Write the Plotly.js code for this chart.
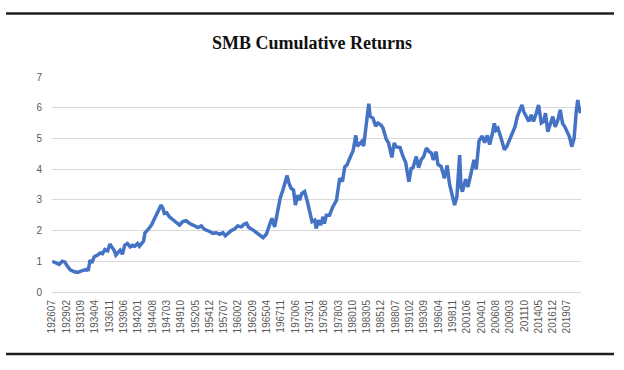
<!DOCTYPE html>
<html>
<head>
<meta charset="utf-8">
<script src="https://cdn.plot.ly/plotly-3.0.1.min.js"></script>
<style>html,body{margin:0;padding:0;background:#fff;}#chart{width:624px;height:370px;}</style>
</head>
<body>
<div id="chart"></div>
<script>
// Month of each reading (YYYYMM) and SMB cumulative return
const months = [
"192607","192703","192710","192805","192810","192904","192910","193007","193102","193109",
"193205","193210","193301","193305","193309","193402","193409","193503","193508","193601",
"193607","193612","193704","193709","193801","193806","193810","193903","193908","194002",
"194008","194101","194106","194112","194204","194209","194301","194304","194310","194406",
"194501","194508","194601","194603","194607","194610","194703","194709","194804","194812",
"194907","195002","195009","195105","195112","195211","195306","195401","195412","195507",
"195602","195610","195705","195710","195804","195811","195906","196001","196009","196102",
"196108","196201","196210","196309","196408","196503","196510","196603","196609","196703",
"196709","196803","196808","196812","196904","196909","197002","197006","197011","197103",
"197108","197202","197208","197301","197306","197312","197403","197408","197501","197506",
"197509","197601","197608","197703","197711","197806","197812","197905","197910","198002",
"198007","198011","198105","198108","198201","198206","198210","198303","198306","198309",
"198312","198406","198412","198505","198512","198604","198611","198704","198711","198804",
"198809","198905","198911","199005","199012","199105","199109","199204","199209","199303",
"199308","199402","199408","199501","199505","199511","199603","199610","199705","199711",
"199804","199809","199903","199908","200002","200005","200008","200103","200108","200204",
"200209","200302","200308","200403","200408","200502","200507","200601","200605","200609",
"200701","200708","200803","200808","200902","200908","201002","201007","201012","201105",
"201109","201203","201208","201301","201306","201312","201405","201411","201504","201508",
"201601","201607","201612","201705","201711","201804","201809","201902","201907","201912",
"202005","202010","202103","202106","202109","202112"
];
const smb = [
1.00,0.95,0.90,1.00,0.98,0.84,0.72,0.66,0.64,0.68,
0.72,0.74,0.69,1.04,0.95,1.15,1.20,1.27,1.25,1.38,
1.34,1.56,1.47,1.36,1.20,1.31,1.36,1.23,1.52,1.58,
1.47,1.52,1.49,1.58,1.49,1.58,1.66,1.93,2.02,2.18,
2.40,2.56,2.74,2.83,2.72,2.56,2.58,2.45,2.36,2.25,
2.18,2.29,2.32,2.23,2.18,2.10,2.15,2.04,1.97,1.91,
1.93,1.88,1.93,1.83,1.91,2.00,2.05,2.15,2.12,2.20,
2.24,2.10,2.02,1.88,1.77,1.88,2.24,2.40,2.12,2.62,
3.05,3.32,3.59,3.79,3.54,3.37,3.32,2.83,3.15,2.99,
3.21,3.27,2.94,2.66,2.29,2.34,2.07,2.34,2.18,2.45,
2.23,2.50,2.50,2.77,2.98,3.70,3.60,4.07,4.14,4.29,
4.45,4.60,5.10,4.75,4.82,4.90,4.75,5.50,5.93,6.13,
5.72,5.66,5.40,5.50,5.43,5.33,4.97,4.85,4.38,4.85,
4.72,4.70,4.42,4.22,3.59,4.02,4.05,4.41,4.05,4.32,
4.41,4.69,4.57,4.52,4.30,4.57,4.15,4.08,3.70,4.12,
3.52,3.16,2.83,3.10,4.46,3.40,3.27,3.67,3.42,3.95,
4.30,3.99,4.92,5.08,4.86,5.10,4.80,5.16,5.49,5.27,
5.33,5.00,4.63,4.73,4.95,5.20,5.38,5.71,5.93,6.09,
5.87,5.71,5.55,5.77,5.55,5.82,6.09,5.50,5.55,5.82,
5.22,5.49,5.71,5.38,5.60,5.93,5.49,5.38,5.22,5.05,
4.73,5.00,5.93,6.25,5.98,5.82
];
const tickLabels = [
"192607","192902","193109","193404","193611","193906","194201","194408","194703","194910",
"195205","195412","195707","196002","196209","196504","196711","197006","197301","197508",
"197803","198010","198305","198512","198807","199102","199309","199604","199811","200106",
"200401","200608","200903","201110","201405","201612","201907"
];

function monthIndex(s){ return (parseInt(s.slice(0,4))-1926)*12 + (parseInt(s.slice(4,6))-7); }

const trace = {
  x: months.map(monthIndex),
  y: smb,
  type: 'scatter',
  mode: 'lines',
  line: {color: '#4472C4', width: 3.5, shape: 'linear'},
  hoverinfo: 'skip'
};

const W = 624, H = 370, L = 52, R = 43, T = 77, B = 78;
const pw = W - L - R, ph = H - T - B;
function px2paperX(px){ return (px - L)/pw; }
function px2paperY(py){ return (H - B - py)/ph; }

const layout = {
  width: W, height: H,
  margin: {l: L, r: R, t: T, b: B, pad: 0},
  paper_bgcolor: '#ffffff', plot_bgcolor: '#ffffff',
  showlegend: false,
  title: {
    text: 'SMB Cumulative Returns',
    font: {family: 'Liberation Serif, serif', size: 18, color: '#111111', weight: 'bold'},
    x: 0.5, xanchor: 'center', xref: 'container',
    y: 1 - 43/H, yanchor: 'middle', yref: 'container'
  },
  xaxis: {
    range: [-0.5, 1146],
    tickvals: tickLabels.map(monthIndex),
    ticktext: tickLabels,
    tickangle: -90,
    tickfont: {family: 'Liberation Sans, Arial, sans-serif', size: 10, color: '#595959'},
    showgrid: false, zeroline: false,
    showline: false, ticks: '',
    ticklabelstandoff: 5,
    fixedrange: true
  },
  yaxis: {
    range: [0, 7],
    dtick: 1, tick0: 0,
    tickfont: {family: 'Liberation Sans, Arial, sans-serif', size: 10, color: '#595959'},
    showgrid: true, gridcolor: '#d9d9d9', gridwidth: 1,
    zeroline: true, zerolinecolor: '#d9d9d9', zerolinewidth: 1,
    showline: false, ticks: '',
    ticklabelstandoff: 9,
    fixedrange: true
  },
  shapes: [
    {type: 'line', xref: 'paper', yref: 'paper',
     x0: px2paperX(6), x1: px2paperX(614), y0: px2paperY(13.5), y1: px2paperY(13.5),
     line: {color: '#1e1e1e', width: 2.5}},
    {type: 'line', xref: 'paper', yref: 'paper',
     x0: px2paperX(6), x1: px2paperX(614), y0: px2paperY(354), y1: px2paperY(354),
     line: {color: '#1e1e1e', width: 2.5}}
  ]
};

Plotly.newPlot('chart', [trace], layout, {displayModeBar: false, staticPlot: true});
</script>
</body>
</html>
